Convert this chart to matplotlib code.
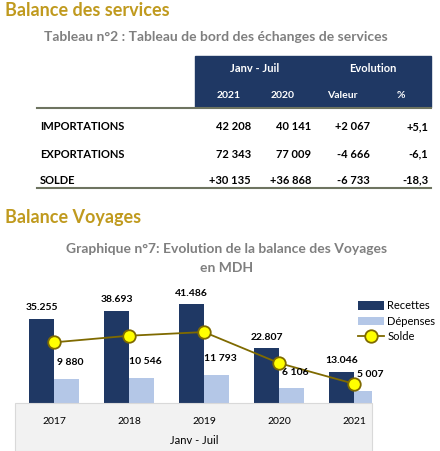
import matplotlib
matplotlib.use("Agg")
import matplotlib.pyplot as plt
from matplotlib.patches import Rectangle
from matplotlib.lines import Line2D

plt.rcParams['font.family'] = ['Lato', 'DejaVu Sans']

# Table data
row_labels = ["IMPORTATIONS", "EXPORTATIONS", "SOLDE"]
col_2021 = ["42 208", "72 343", "+30 135"]
col_2020 = ["40 141", "77 009", "+36 868"]
col_val = ["+2 067", "-4 666", "-6 733"]
col_pct = ["+5,1", "-6,1", "-18,3"]

# Chart data
years = ["2017", "2018", "2019", "2020", "2021"]
recettes = [35255, 38693, 41486, 22807, 13046]
depenses = [9880, 10546, 11793, 6106, 5007]
solde = [25375, 28147, 29693, 16701, 8039]
rec_labels = ["35.255", "38.693", "41.486", "22.807", "13.046"]
dep_labels = ["9 880", "10 546", "11 793", "6 106", "5 007"]

W, H = 440, 451
fig = plt.figure(figsize=(W/100, H/100), dpi=100)
def fx(x): return x / W
def fy(y): return 1 - y / H

gold = "#C09A1E"
gray = "#7F7F7F"
navy = "#1F3864"
light = "#B4C7E7"

fig.text(fx(5), fy(11), "Balance des services", color=gold, fontsize=13, fontweight='bold', va='center')
fig.text(fx(216), fy(37), "Tableau n°2 : Tableau de bord des échanges de services", color=gray,
         fontsize=10, fontweight='bold', ha='center', va='center')

fig.patches.append(Rectangle((fx(195), fy(107)), fx(236), 51/H, transform=fig.transFigure,
                             color=navy, zorder=0))
fig.add_artist(Line2D([fx(37), fx(431)], [fy(108), fy(108)], color="#6E7460", lw=1.5, transform=fig.transFigure))
fig.add_artist(Line2D([fx(37), fx(431)], [fy(188), fy(188)], color="#6E7460", lw=1.5, transform=fig.transFigure))
fig.text(fx(255), fy(69), "Janv - Juil", color='white', fontsize=8, fontweight='bold', ha='center', va='center')
fig.text(fx(373), fy(69), "Evolution", color='white', fontsize=8, fontweight='bold', ha='center', va='center')
for x, t in [(229, "2021"), (283, "2020"), (342, "Valeur"), (401, "%")]:
    fig.text(fx(x), fy(96), t, color='white', fontsize=7.5, fontweight='bold', ha='center', va='center')
for i, (y) in enumerate([127, 154, 180]):
    fig.text(fx(40), fy(y), row_labels[i], fontsize=8, fontweight='bold', va='center')
    for x, col in [(251, col_2021), (311, col_2020), (370, col_val), (428, col_pct)]:
        fig.text(fx(x), fy(y), col[i], fontsize=8, fontweight='bold', ha='right', va='center')

fig.text(fx(5), fy(218), "Balance Voyages", color=gold, fontsize=13, fontweight='bold', va='center')
fig.text(fx(227), fy(249), "Graphique n°7: Evolution de la balance des Voyages", color=gray,
         fontsize=10, fontweight='bold', ha='center', va='center')
fig.text(fx(227), fy(268), "en MDH", color=gray, fontsize=10, fontweight='bold', ha='center', va='center')

# gray band below axes
fig.patches.append(Rectangle((fx(15), 0), fx(357), 48/H, transform=fig.transFigure,
                             facecolor="#F2F2F2", edgecolor="#D9D9D9", lw=0.8, zorder=0))

ax = fig.add_axes([fx(15), fy(403), fx(357), 119.5/H])
x = list(range(len(years)))
w = 0.333
ax.bar([i - w/2 for i in x], recettes, w, color=navy, label="Recettes", zorder=2)
ax.bar([i + w/2 for i in x], depenses, w, color=light, label="Dépenses", zorder=2)
ax.plot(x, solde, color="#7F6A00", lw=1.3, marker='o', ms=9, mfc="#FFFF00", mec="#7F6A00",
        mew=1.3, label="Solde", zorder=3)
for i in x:
    ax.annotate(rec_labels[i], (i - w/2, recettes[i]), xytext=(0, 6), textcoords='offset points',
                ha='center', fontsize=7.5, fontweight='bold')
    ax.annotate(dep_labels[i], (i + w/2 + 0.05, depenses[i]), xytext=(0, 10), textcoords='offset points',
                ha='center', fontsize=7.5, fontweight='bold')
ax.set_xlim(-0.52, 4.24)
ax.set_ylim(0, 50000)
ax.axis('off')
for i in x:
    fig.text(fx(54 + 75*i), fy(421), years[i], fontsize=7.5, ha='center', va='center')
fig.text(fx(194), fy(440), "Janv - Juil", fontsize=8, ha='center', va='center')

h, l = ax.get_legend_handles_labels()
order = [l.index("Recettes"), l.index("Dépenses"), l.index("Solde")]
fig.legend([h[k] for k in order], [l[k] for k in order], loc='upper left',
           bbox_to_anchor=(fx(354), fy(296)),
           frameon=False, fontsize=8, handlelength=2.3, handleheight=0.8, labelspacing=0.4,
           borderaxespad=0, handletextpad=0.3)

fig.savefig("out.png", dpi=100, facecolor='white')
